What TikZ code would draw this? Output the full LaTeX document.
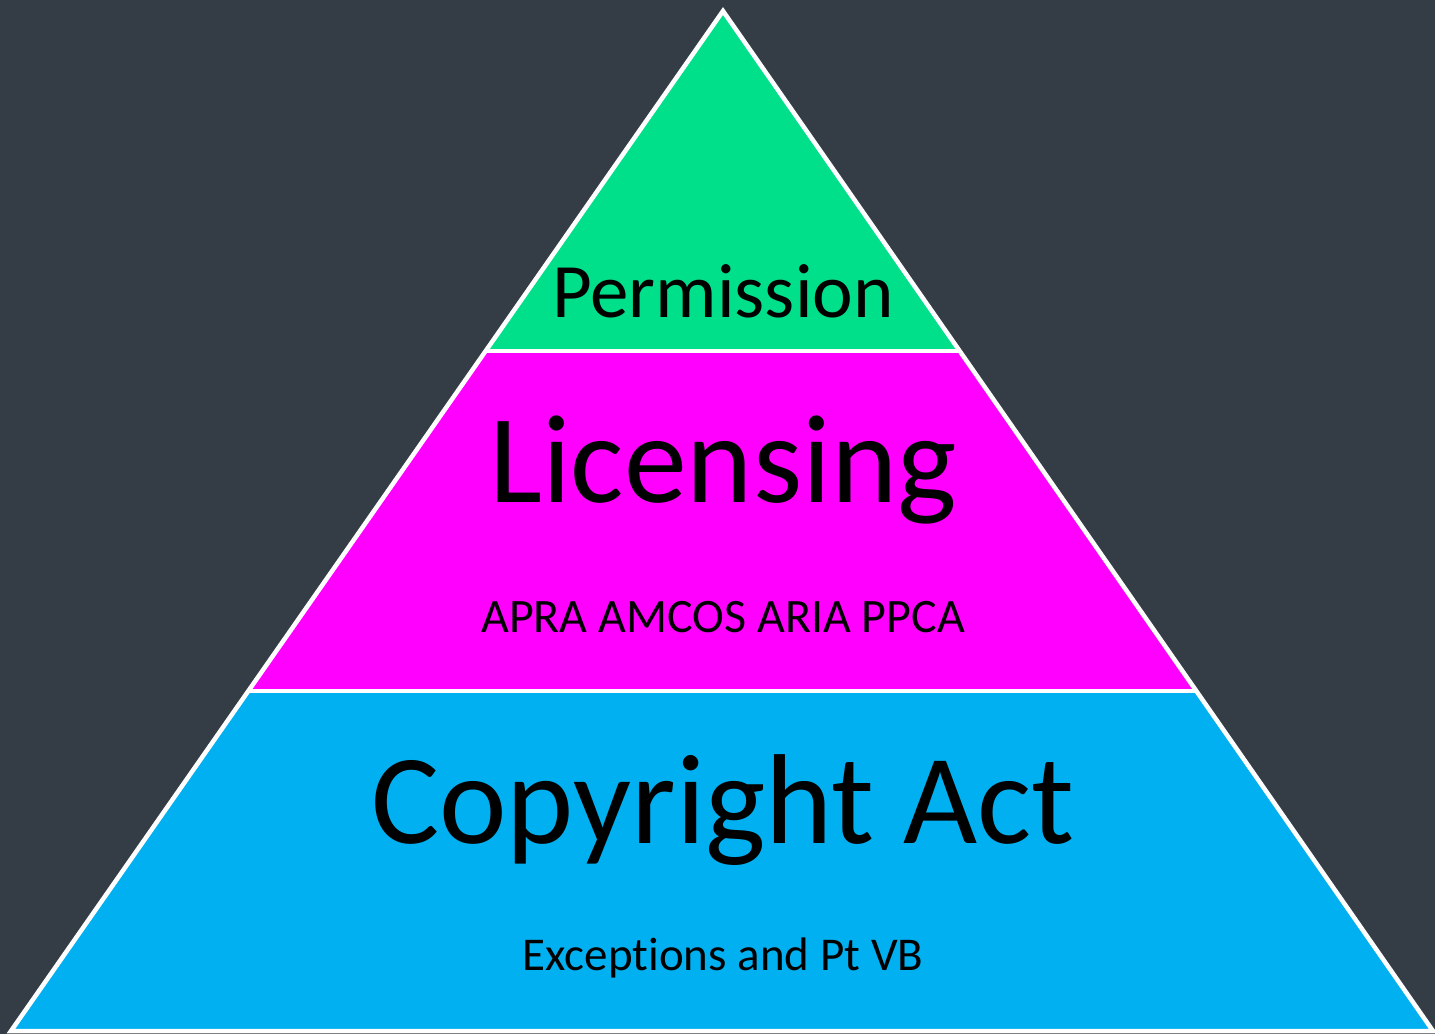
\documentclass[tikz,border=0pt]{standalone}
\usepackage{fontspec}
\setmainfont[Ligatures=NoCommon,RawFeature={-liga}]{Carlito}
\usetikzlibrary{calc}
\definecolor{bg}{RGB}{52,61,70}
\definecolor{tiergreen}{RGB}{0,224,139}
\definecolor{tiermag}{RGB}{255,0,255}
\definecolor{tierblue}{RGB}{0,176,240}
\tikzset{
  tierline/.style={draw=white,line width=4.5pt,line join=miter},
  tiertext/.style={anchor=base,inner sep=0pt,text=black},
}
\begin{document}
\begin{tikzpicture}[x=1pt,y=1pt]
\fill[bg] (0,0) rectangle (1435,1034);
\useasboundingbox (0,0) rectangle (1435,1034);
% corners (y = 1034 - pixel row)
\coordinate (apex) at (723,1023);
\coordinate (bl) at (11,3);
\coordinate (br) at (1433,3);
\coordinate (l1) at ($(apex)!1/3!(bl)$);
\coordinate (r1) at ($(apex)!1/3!(br)$);
\coordinate (l2) at ($(apex)!2/3!(bl)$);
\coordinate (r2) at ($(apex)!2/3!(br)$);
% fills
\fill[tiergreen] (apex) -- (l1) -- (r1) -- cycle;
\fill[tiermag] (l1) -- (l2) -- (r2) -- (r1) -- cycle;
\fill[tierblue] (l2) -- (bl) -- (br) -- (r2) -- cycle;
% white outlines
\draw[tierline] (apex) -- (bl) -- (br) -- cycle;
\draw[tierline] (l1) -- (r1);
\draw[tierline] (l2) -- (r2);
% texts
\node[tiertext,font=\fontsize{77}{82}\selectfont] (perm) at (723,716) {Permission};
\node[tiertext,font=\fontsize{126}{130}\selectfont] (lic) at (723,531) {Licensing};
\node[tiertext,font=\fontsize{48}{52}\selectfont] (orgs) at (723,401) {APRA AMCOS ARIA PPCA};
\node[tiertext,font=\fontsize{128}{132}\selectfont] (act) at (723,190) {Copyright Act};
\node[tiertext,font=\fontsize{47}{52}\selectfont] (exc) at (723,64) {Exceptions and Pt VB};
\end{tikzpicture}
\end{document}
